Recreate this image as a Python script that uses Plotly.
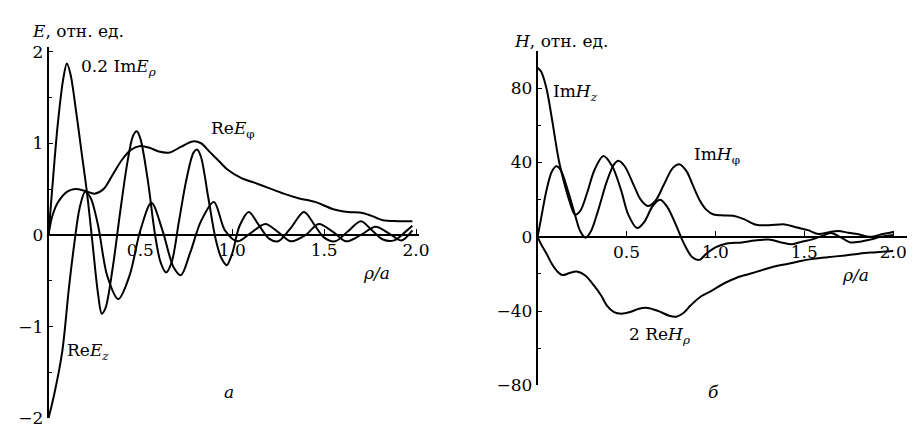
import plotly.graph_objects as go

W, H = 915, 426

# ---------------- Panel a: E (relative units) ----------------
rho_im_erho = [0.0, 0.02, 0.05, 0.08, 0.10, 0.12, 0.15, 0.18, 0.21, 0.24, 0.27, 0.29, 0.31,
               0.35, 0.39, 0.43, 0.46, 0.48, 0.50, 0.54, 0.58, 0.61, 0.64, 0.67, 0.71, 0.75,
               0.79, 0.81, 0.83, 0.87, 0.91, 0.94, 0.97, 1.00, 1.04, 1.09, 1.14, 1.20, 1.25,
               1.32, 1.39, 1.45, 1.50, 1.56, 1.63, 1.70, 1.76, 1.82, 1.88, 1.94, 1.98]
im_erho_02 = [0.0, 0.5, 1.2, 1.7, 1.87, 1.75, 1.35, 0.9, 0.45, -0.1, -0.65, -0.86, -0.8,
              -0.35, 0.25, 0.8, 1.08, 1.13, 1.05, 0.6, 0.0, -0.3, -0.41, -0.3, 0.15, 0.6,
              0.9, 0.93, 0.85, 0.4, -0.05, -0.25, -0.33, -0.2, 0.1, 0.25, 0.12, -0.04, -0.07,
              0.08, 0.25, 0.1, -0.03, -0.07, 0.04, 0.15, 0.05, -0.05, -0.06, 0.03, 0.1]

rho_re_ez = [0.0, 0.03, 0.075, 0.11, 0.14, 0.17, 0.20, 0.23, 0.27, 0.32, 0.38, 0.44, 0.50,
             0.56, 0.62, 0.68, 0.72, 0.77, 0.83, 0.90, 0.96, 1.03, 1.10, 1.18, 1.25, 1.32,
             1.40, 1.47, 1.55, 1.62, 1.70, 1.78, 1.85, 1.92, 1.98]
re_ez = [-2.0, -1.75, -1.27, -0.6, -0.1, 0.3, 0.47, 0.4, 0.1, -0.45, -0.70, -0.45, 0.05,
         0.35, 0.05, -0.35, -0.44, -0.2, 0.15, 0.36, 0.05, -0.07, 0.02, 0.12, 0.03, -0.07,
         0.0, 0.12, 0.03, -0.07, 0.0, 0.09, 0.02, -0.06, 0.05]

rho_re_ephi = [0.0, 0.02, 0.05, 0.10, 0.145, 0.20, 0.25, 0.30, 0.35, 0.40, 0.45, 0.50, 0.55,
               0.60, 0.66, 0.72, 0.785, 0.83, 0.88, 0.93, 0.97, 1.05, 1.12, 1.20, 1.28, 1.36,
               1.45, 1.55, 1.63, 1.71, 1.78, 1.82, 1.90, 1.98]
re_ephi = [0.0, 0.2, 0.35, 0.47, 0.50, 0.48, 0.45, 0.50, 0.66, 0.82, 0.93, 0.97, 0.95,
           0.91, 0.90, 0.96, 1.02, 1.0, 0.9, 0.8, 0.72, 0.62, 0.57, 0.51, 0.45, 0.40,
           0.36, 0.28, 0.25, 0.24, 0.19, 0.16, 0.15, 0.15]

# ---------------- Panel б: H (relative units) ----------------
rho_im_hz = [0.0, 0.02, 0.05, 0.08, 0.12, 0.15, 0.18, 0.21, 0.24, 0.28, 0.32, 0.37, 0.42,
             0.47, 0.51, 0.56, 0.60, 0.65, 0.69, 0.73, 0.78, 0.82, 0.87, 0.91, 0.95, 1.00,
             1.07, 1.15, 1.22, 1.30, 1.37, 1.43, 1.49, 1.54, 1.60, 1.65, 1.70, 1.76, 1.82,
             1.87, 1.93, 2.00]
im_hz = [91, 89, 80, 64, 41, 29, 19, 12, 14, 24, 36, 43.5, 38,
         25, 12, 4.7, 8, 17, 20, 16, 6, -3, -11, -12.4, -9, -5.7,
         -3.5, -3, -2, -1.5, -3, -4, -2.5, -1.5, 0.5, 2, 0, -3, -2.5,
         -1.5, 0, 1]

rho_im_hphi = [0.0, 0.02, 0.05, 0.08, 0.105, 0.13, 0.17, 0.21, 0.24, 0.27, 0.30, 0.34, 0.39,
               0.43, 0.455, 0.49, 0.54, 0.58, 0.62, 0.66, 0.71, 0.76, 0.80, 0.84, 0.87, 0.91,
               0.95, 0.99, 1.05, 1.10, 1.16, 1.23, 1.30, 1.39, 1.46, 1.52, 1.58, 1.64, 1.69,
               1.75, 1.80, 1.87, 1.94, 2.00]
im_hphi = [0, 10, 25, 35, 38, 36, 25, 12, 3, -0.5, 3, 14, 30,
           39, 41, 38, 28, 20, 16.6, 19, 28, 37, 39, 35, 28.5, 20,
           14.5, 12, 11.5, 11.3, 9.5, 6.5, 6.2, 6.7, 5, 3.6, 1.5, 2.5, 3.1,
           2.2, 1.5, 0, 1.5, 2.6]

rho_re_hrho = [0.0, 0.02, 0.05, 0.08, 0.11, 0.14, 0.18, 0.22, 0.27, 0.32, 0.36, 0.39, 0.43,
               0.47, 0.52, 0.57, 0.62, 0.68, 0.74, 0.78, 0.82, 0.86, 0.92, 0.98, 1.05, 1.12,
               1.19, 1.26, 1.33, 1.41, 1.48, 1.54, 1.63, 1.73, 1.80, 1.87, 1.94, 2.00]
re_hrho_2 = [0, -4, -9, -14.5, -18.5, -20.6, -19.5, -18.7, -21, -26.6, -32, -37, -40.5,
             -41.4, -40.5, -38.7, -38.3, -40, -42.5, -43, -41, -37, -32, -29, -25, -22,
             -20, -18, -16, -14.5, -13, -12, -11, -10, -9.2, -8.5, -8, -7.6]

# tick labels
x_tickvals = [0.5, 1.0, 1.5, 2.0]
x_ticktext = ["0.5", "1.0", "1.5", "2.0"]
ya_tickvals = [-2, -1, 0, 1, 2]
ya_ticktext = ["\u22122", "\u22121", "0", "1", "2"]
ya_minor = [-1.5, -0.5, 0.5, 1.5]
yb_tickvals = [-80, -40, 0, 40, 80]
yb_ticktext = ["\u221280", "\u221240", "0", "40", "80"]
yb_minor = [-60, -20, 20, 60, 100]

FONT = "DejaVu Serif"
FS = 17
LINE = dict(color="black", width=2, shape="spline", smoothing=0.9)

fig = go.Figure()
for xs, ys in [(rho_im_erho, im_erho_02), (rho_re_ez, re_ez), (rho_re_ephi, re_ephi)]:
    fig.add_trace(go.Scatter(x=xs, y=ys, mode="lines", line=LINE, xaxis="x", yaxis="y",
                             showlegend=False, hoverinfo="skip"))
for xs, ys in [(rho_im_hz, im_hz), (rho_im_hphi, im_hphi), (rho_re_hrho, re_hrho_2)]:
    fig.add_trace(go.Scatter(x=xs, y=ys, mode="lines", line=LINE, xaxis="x2", yaxis="y2",
                             showlegend=False, hoverinfo="skip"))


def px(x):
    return x / W


def py(y):
    return 1 - y / H


# pixel geometry
A_X0, A_X1, A_XU = 41, 416, 186.0      # x=0 pixel, axis end, px per unit
A_Y0, A_YU = 230, 95.0                # y=0 pixel, px per unit
B_X0, B_X1, B_XU = 536, 911, 180.0
B_Y0, B_YU = 232, 1.925

axis_common = dict(showline=True, linecolor="black", linewidth=1.6, showgrid=False,
                   zeroline=False, ticks="inside", ticklen=5, tickwidth=1.4,
                   tickcolor="black", tickfont=dict(family=FONT, size=FS, color="black"))

fig.update_layout(
    width=W, height=H, margin=dict(l=0, r=0, t=0, b=0),
    paper_bgcolor="white", plot_bgcolor="rgba(0,0,0,0)",
    xaxis=dict(domain=[px(A_X0), px(A_X1)], range=[0, (A_X1 - A_X0) / A_XU],
               anchor="free", position=py(A_Y0), tickvals=x_tickvals, ticktext=x_ticktext,
               **axis_common),
    yaxis=dict(domain=[py(A_Y0 + 2 * A_YU), py(A_Y0 - 2.05 * A_YU)], range=[-2, 2.05],
               anchor="x", tickvals=ya_tickvals, ticktext=ya_ticktext,
               minor=dict(tickvals=ya_minor, ticks="inside", ticklen=4, tickcolor="black"),
               **axis_common),
    xaxis2=dict(domain=[px(B_X0), px(B_X1)], range=[0, (B_X1 - B_X0) / B_XU],
                anchor="free", position=py(B_Y0), tickvals=x_tickvals, ticktext=x_ticktext,
                **axis_common),
    yaxis2=dict(domain=[py(B_Y0 + 80 * B_YU), py(B_Y0 - 100 * B_YU)], range=[-80, 100],
                anchor="x2", tickvals=yb_tickvals, ticktext=yb_ticktext,
                minor=dict(tickvals=yb_minor, ticks="inside", ticklen=4, tickcolor="black"),
                **axis_common),
)

labels = [
    (22, 19, "<i>E</i>, отн. ед."),
    (510, 29, "<i>H</i>, отн. ед."),
    (72, 57, "0.2 Im<i>E</i><sub><i>ρ</i></sub>"),
    (203, 121, "Re<i>E</i><sub>φ</sub>"),
    (58, 351, "Re<i>E</i><sub><i>z</i></sub>"),
    (550, 82, "Im<i>H</i><sub><i>z</i></sub>"),
    (692, 148, "Im<i>H</i><sub>φ</sub>"),
    (627, 334, "2 Re<i>H</i><sub><i>ρ</i></sub>"),
    (357, 270, "<i>ρ/a</i>"),
    (842, 272, "<i>ρ/a</i>"),
    (217, 393, "<i>а</i>"),
    (706, 393, "<i>б</i>"),
]
for x, y, t in labels:
    fig.add_annotation(x=px(x), y=py(y), xref="paper", yref="paper", text=t,
                       showarrow=False, xanchor="left", yanchor="middle",
                       font=dict(family=FONT, size=FS, color="black"))

fig.write_html("out.html")
